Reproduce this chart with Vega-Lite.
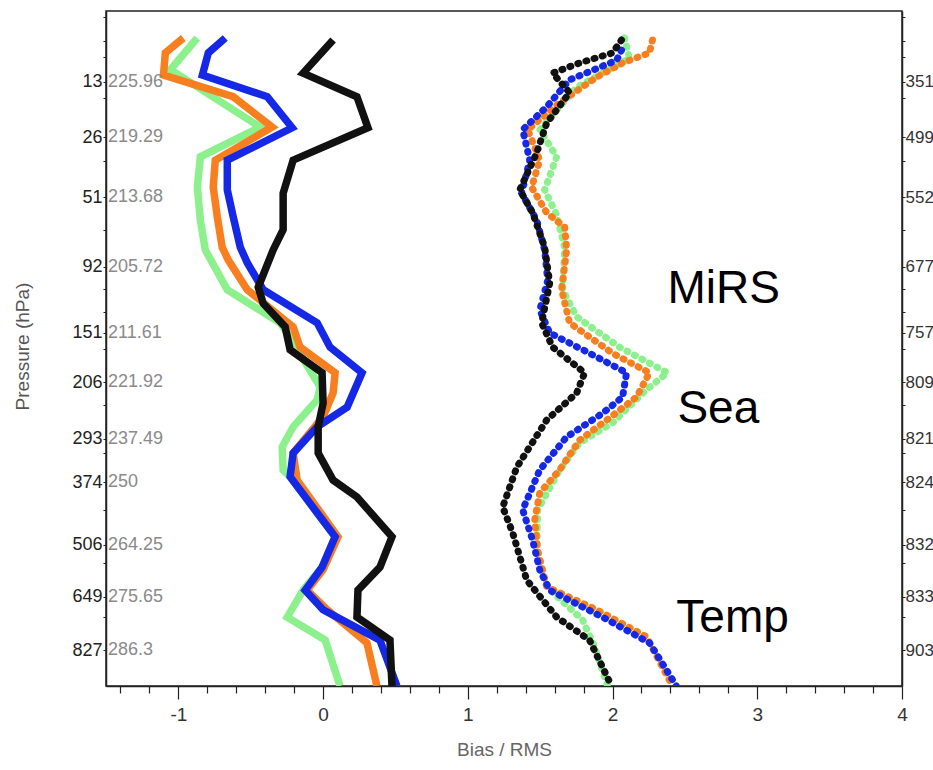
{
  "$schema": "https://vega.github.io/schema/vega-lite/v6.json",
  "width": 796,
  "height": 675,
  "autosize": {"type": "none"},
  "padding": {"left": 106, "top": 11, "right": 31, "bottom": 84},
  "background": "white",
  "config": {
    "view": {"stroke": "#222", "strokeWidth": 1.5},
    "font": "Liberation Sans"
  },
  "datasets": {
    "bias": [
      {"series": "green", "level": 4.0, "value": -0.87},
      {"series": "green", "level": 8.7, "value": -1.055},
      {"series": "green", "level": 17.2, "value": -0.434},
      {"series": "green", "level": 21.6, "value": -0.848},
      {"series": "green", "level": 26.1, "value": -0.869},
      {"series": "green", "level": 31.0, "value": -0.848},
      {"series": "green", "level": 35.4, "value": -0.814},
      {"series": "green", "level": 41.3, "value": -0.662},
      {"series": "green", "level": 46.2, "value": -0.297},
      {"series": "green", "level": 47.7, "value": -0.248},
      {"series": "green", "level": 55.7, "value": -0.02},
      {"series": "green", "level": 57.6, "value": -0.04},
      {"series": "green", "level": 61.6, "value": -0.207},
      {"series": "green", "level": 64.6, "value": -0.283},
      {"series": "green", "level": 68.0, "value": -0.276},
      {"series": "green", "level": 69.0, "value": -0.228},
      {"series": "green", "level": 77.9, "value": 0.083},
      {"series": "green", "level": 82.4, "value": -0.007},
      {"series": "green", "level": 85.8, "value": -0.138},
      {"series": "green", "level": 89.8, "value": -0.248},
      {"series": "green", "level": 93.2, "value": 0.014},
      {"series": "green", "level": 100, "value": 0.117},
      {"series": "orange", "level": 4.0, "value": -0.966},
      {"series": "orange", "level": 6.2, "value": -1.09},
      {"series": "orange", "level": 9.5, "value": -1.103},
      {"series": "orange", "level": 12.7, "value": -0.621},
      {"series": "orange", "level": 17.2, "value": -0.352},
      {"series": "orange", "level": 22.1, "value": -0.745},
      {"series": "orange", "level": 26.1, "value": -0.759},
      {"series": "orange", "level": 30.5, "value": -0.731},
      {"series": "orange", "level": 35.0, "value": -0.697},
      {"series": "orange", "level": 36.9, "value": -0.655},
      {"series": "orange", "level": 41.3, "value": -0.524},
      {"series": "orange", "level": 46.8, "value": -0.207},
      {"series": "orange", "level": 49.8, "value": -0.159},
      {"series": "orange", "level": 53.6, "value": 0.083},
      {"series": "orange", "level": 56.6, "value": 0.069},
      {"series": "orange", "level": 60.1, "value": 0.0},
      {"series": "orange", "level": 65.5, "value": -0.207},
      {"series": "orange", "level": 69.5, "value": -0.179},
      {"series": "orange", "level": 77.9, "value": 0.103},
      {"series": "orange", "level": 82.8, "value": 0.0},
      {"series": "orange", "level": 85.8, "value": -0.11},
      {"series": "orange", "level": 88.7, "value": 0.028},
      {"series": "orange", "level": 93.6, "value": 0.303},
      {"series": "orange", "level": 100, "value": 0.372},
      {"series": "blue", "level": 4.0, "value": -0.676},
      {"series": "blue", "level": 6.2, "value": -0.793},
      {"series": "blue", "level": 9.5, "value": -0.834},
      {"series": "blue", "level": 12.7, "value": -0.386},
      {"series": "blue", "level": 17.3, "value": -0.214},
      {"series": "blue", "level": 22.1, "value": -0.662},
      {"series": "blue", "level": 26.5, "value": -0.662},
      {"series": "blue", "level": 30.5, "value": -0.621},
      {"series": "blue", "level": 35.0, "value": -0.572},
      {"series": "blue", "level": 37.3, "value": -0.524},
      {"series": "blue", "level": 41.3, "value": -0.414},
      {"series": "blue", "level": 46.2, "value": -0.041},
      {"series": "blue", "level": 49.8, "value": 0.048},
      {"series": "blue", "level": 53.6, "value": 0.269},
      {"series": "blue", "level": 58.7, "value": 0.166},
      {"series": "blue", "level": 61.6, "value": -0.041},
      {"series": "blue", "level": 65.5, "value": -0.207},
      {"series": "blue", "level": 69.0, "value": -0.228},
      {"series": "blue", "level": 77.9, "value": 0.083},
      {"series": "blue", "level": 82.4, "value": -0.007},
      {"series": "blue", "level": 85.8, "value": -0.124},
      {"series": "blue", "level": 88.7, "value": 0.0},
      {"series": "blue", "level": 93.2, "value": 0.393},
      {"series": "blue", "level": 100, "value": 0.51},
      {"series": "black", "level": 4.3, "value": 0.069},
      {"series": "black", "level": 9.2, "value": -0.138},
      {"series": "black", "level": 12.7, "value": 0.234},
      {"series": "black", "level": 17.3, "value": 0.31},
      {"series": "black", "level": 22.1, "value": -0.207},
      {"series": "black", "level": 27.0, "value": -0.276},
      {"series": "black", "level": 32.4, "value": -0.276},
      {"series": "black", "level": 35.4, "value": -0.345},
      {"series": "black", "level": 40.9, "value": -0.448},
      {"series": "black", "level": 43.3, "value": -0.414},
      {"series": "black", "level": 46.8, "value": -0.262},
      {"series": "black", "level": 50.2, "value": -0.228},
      {"series": "black", "level": 53.6, "value": -0.007},
      {"series": "black", "level": 58.1, "value": 0.0},
      {"series": "black", "level": 61.6, "value": -0.034},
      {"series": "black", "level": 65.5, "value": -0.034},
      {"series": "black", "level": 69.5, "value": 0.069},
      {"series": "black", "level": 72.0, "value": 0.234},
      {"series": "black", "level": 77.9, "value": 0.476},
      {"series": "black", "level": 82.4, "value": 0.393},
      {"series": "black", "level": 85.8, "value": 0.241},
      {"series": "black", "level": 89.8, "value": 0.234},
      {"series": "black", "level": 93.2, "value": 0.462},
      {"series": "black", "level": 100, "value": 0.476}
    ],
    "rms": [
      {"series": "green", "level": 4.0, "value": 2.083},
      {"series": "green", "level": 7.0, "value": 2.117},
      {"series": "green", "level": 11.3, "value": 1.752},
      {"series": "green", "level": 17.6, "value": 1.497},
      {"series": "green", "level": 21.6, "value": 1.614},
      {"series": "green", "level": 26.5, "value": 1.531},
      {"series": "green", "level": 30.2, "value": 1.614},
      {"series": "green", "level": 35.1, "value": 1.669},
      {"series": "green", "level": 41.3, "value": 1.655},
      {"series": "green", "level": 45.3, "value": 1.752},
      {"series": "green", "level": 49.8, "value": 2.048},
      {"series": "green", "level": 53.6, "value": 2.379},
      {"series": "green", "level": 56.1, "value": 2.234},
      {"series": "green", "level": 61.0, "value": 2.0},
      {"series": "green", "level": 64.0, "value": 1.772},
      {"series": "green", "level": 68.0, "value": 1.634},
      {"series": "green", "level": 73.9, "value": 1.483},
      {"series": "green", "level": 79.9, "value": 1.476},
      {"series": "green", "level": 85.3, "value": 1.545},
      {"series": "green", "level": 90.2, "value": 1.793},
      {"series": "green", "level": 94.2, "value": 1.876},
      {"series": "green", "level": 100, "value": 1.966},
      {"series": "orange", "level": 4.3, "value": 2.276},
      {"series": "orange", "level": 6.2, "value": 2.255},
      {"series": "orange", "level": 7.7, "value": 2.069},
      {"series": "orange", "level": 9.8, "value": 1.89},
      {"series": "orange", "level": 13.6, "value": 1.634},
      {"series": "orange", "level": 17.6, "value": 1.414},
      {"series": "orange", "level": 22.1, "value": 1.497},
      {"series": "orange", "level": 26.1, "value": 1.441},
      {"series": "orange", "level": 29.9, "value": 1.545},
      {"series": "orange", "level": 32.0, "value": 1.669},
      {"series": "orange", "level": 35.4, "value": 1.683},
      {"series": "orange", "level": 41.3, "value": 1.648},
      {"series": "orange", "level": 46.2, "value": 1.703},
      {"series": "orange", "level": 50.7, "value": 2.0},
      {"series": "orange", "level": 53.6, "value": 2.255},
      {"series": "orange", "level": 57.2, "value": 2.166},
      {"series": "orange", "level": 60.6, "value": 1.959},
      {"series": "orange", "level": 63.6, "value": 1.772},
      {"series": "orange", "level": 68.0, "value": 1.634},
      {"series": "orange", "level": 71.4, "value": 1.497},
      {"series": "orange", "level": 75.4, "value": 1.462},
      {"series": "orange", "level": 79.9, "value": 1.483},
      {"series": "orange", "level": 85.3, "value": 1.545},
      {"series": "orange", "level": 88.7, "value": 1.89},
      {"series": "orange", "level": 92.7, "value": 2.234},
      {"series": "orange", "level": 100, "value": 2.414},
      {"series": "blue", "level": 5.8, "value": 2.062},
      {"series": "blue", "level": 7.3, "value": 2.028},
      {"series": "blue", "level": 10.2, "value": 1.703},
      {"series": "blue", "level": 14.2, "value": 1.545},
      {"series": "blue", "level": 17.6, "value": 1.379},
      {"series": "blue", "level": 22.1, "value": 1.428},
      {"series": "blue", "level": 27.0, "value": 1.372},
      {"series": "blue", "level": 31.0, "value": 1.476},
      {"series": "blue", "level": 35.4, "value": 1.531},
      {"series": "blue", "level": 39.9, "value": 1.552},
      {"series": "blue", "level": 44.3, "value": 1.497},
      {"series": "blue", "level": 47.7, "value": 1.566},
      {"series": "blue", "level": 50.7, "value": 1.841},
      {"series": "blue", "level": 53.6, "value": 2.097},
      {"series": "blue", "level": 57.2, "value": 2.069},
      {"series": "blue", "level": 59.6, "value": 1.931},
      {"series": "blue", "level": 63.1, "value": 1.683},
      {"series": "blue", "level": 68.0, "value": 1.497},
      {"series": "blue", "level": 73.9, "value": 1.379},
      {"series": "blue", "level": 78.4, "value": 1.448},
      {"series": "blue", "level": 82.8, "value": 1.497},
      {"series": "blue", "level": 85.8, "value": 1.566},
      {"series": "blue", "level": 89.8, "value": 1.931},
      {"series": "blue", "level": 93.6, "value": 2.255},
      {"series": "blue", "level": 100, "value": 2.441},
      {"series": "black", "level": 4.3, "value": 2.062},
      {"series": "black", "level": 6.2, "value": 2.0},
      {"series": "black", "level": 7.7, "value": 1.772},
      {"series": "black", "level": 9.2, "value": 1.586},
      {"series": "black", "level": 12.1, "value": 1.703},
      {"series": "black", "level": 16.6, "value": 1.545},
      {"series": "black", "level": 21.0, "value": 1.476},
      {"series": "black", "level": 26.5, "value": 1.359},
      {"series": "black", "level": 29.9, "value": 1.448},
      {"series": "black", "level": 35.0, "value": 1.531},
      {"series": "black", "level": 40.3, "value": 1.566},
      {"series": "black", "level": 46.2, "value": 1.51},
      {"series": "black", "level": 49.8, "value": 1.586},
      {"series": "black", "level": 53.6, "value": 1.807},
      {"series": "black", "level": 56.6, "value": 1.752},
      {"series": "black", "level": 60.6, "value": 1.545},
      {"series": "black", "level": 67.6, "value": 1.338},
      {"series": "black", "level": 73.5, "value": 1.241},
      {"series": "black", "level": 77.3, "value": 1.31},
      {"series": "black", "level": 84.3, "value": 1.407},
      {"series": "black", "level": 89.8, "value": 1.614},
      {"series": "black", "level": 93.2, "value": 1.841},
      {"series": "black", "level": 100, "value": 1.993}
    ],
    "levels": [
      {"level": 10.5, "p": "13", "t": "225.96", "n": "351"},
      {"level": 18.7, "p": "26", "t": "219.29", "n": "499"},
      {"level": 27.6, "p": "51", "t": "213.68", "n": "552"},
      {"level": 37.9, "p": "92", "t": "205.72", "n": "677"},
      {"level": 47.7, "p": "151", "t": "211.61", "n": "757"},
      {"level": 55.0, "p": "206", "t": "221.92", "n": "809"},
      {"level": 63.4, "p": "293", "t": "237.49", "n": "821"},
      {"level": 69.8, "p": "374", "t": "250", "n": "824"},
      {"level": 79.1, "p": "506", "t": "264.25", "n": "832"},
      {"level": 86.8, "p": "649", "t": "275.65", "n": "833"},
      {"level": 94.7, "p": "827", "t": "286.3", "n": "903"}
    ],
    "notes": [
      {"value": 2.379, "level": 43.3, "text": "MiRS"},
      {"value": 2.448, "level": 61.0, "text": "Sea"},
      {"value": 2.441, "level": 92.0, "text": "Temp"}
    ]
  },
  "layer": [
    {
      "mark": {"type": "rule", "strokeDash": [3, 3], "strokeWidth": 1, "color": "#222"},
      "encoding": {
        "x": {
          "datum": 0, "type": "quantitative",
          "scale": {"domain": [-1.5, 4], "nice": false},
          "axis": {
            "orient": "bottom",
            "values": [-1.4, -1.2, -0.8, -0.6, -0.4, -0.2, 0.2, 0.4, 0.6, 0.8, 1.2, 1.4, 1.6, 1.8, 2.2, 2.4, 2.6, 2.8, 3.2, 3.4, 3.6, 3.8],
            "labels": false, "domain": false, "grid": false,
            "tickSize": 7, "tickColor": "#222", "tickWidth": 1.2,
            "title": null
          }
        }
      }
    },
    {
      "data": {"name": "bias"},
      "mark": {"type": "line", "strokeWidth": 7.5, "strokeJoin": "miter", "clip": true},
      "encoding": {
        "x": {
          "field": "value", "type": "quantitative",
          "scale": {"domain": [-1.5, 4], "nice": false},
          "axis": {
            "orient": "bottom",
            "values": [-1, 0, 1, 2, 3, 4],
            "labelExpr": "'' + datum.value",
            "tickSize": 13, "tickColor": "#222", "tickWidth": 1.2,
            "domainColor": "#222", "domainWidth": 1.5,
            "grid": false,
            "labelFontSize": 19, "labelColor": "#333", "labelPadding": 6,
            "labelFlush": false, "labelOverlap": false,
            "title": "Bias / RMS", "titleFontSize": 19, "titleColor": "#666",
            "titleFontWeight": "normal", "titlePadding": 16
          }
        },
        "y": {
          "field": "level", "type": "quantitative",
          "scale": {"domain": [0, 100], "reverse": true, "nice": false, "zero": false},
          "axis": {
            "orient": "left",
            "values": [0.9, 4.4, 6.8, 10.5, 12.9, 18.7, 22.2, 27.6, 32.4, 37.9, 41.2, 44.6, 47.7, 50.1, 55, 58.4, 63.4, 65.5, 69.8, 73.9, 79.1, 81.8, 86.8, 89.8, 94.7],
            "labelExpr": "indexof([10.5,18.7,27.6,37.9,47.7,55,63.4,69.8,79.1,86.8,94.7], datum.value) >= 0 ? ['13','26','51','92','151','206','293','374','506','649','827'][indexof([10.5,18.7,27.6,37.9,47.7,55,63.4,69.8,79.1,86.8,94.7], datum.value)] : ''",
            "tickSize": 3, "tickColor": "#222", "domainColor": "#222", "domainWidth": 1.5,
            "grid": false, "labelFontSize": 18, "labelColor": "#222", "labelPadding": 1,
            "labelOverlap": false, "labelFlush": false,
            "title": "Pressure (hPa)", "titleFontSize": 19,
            "titleColor": "#555", "titleFontWeight": "normal",
            "titleX": -84, "titleY": 335, "titleAlign": "center", "titleBaseline": "middle", "titleAngle": 270
          }
        },
        "order": {"field": "level", "type": "quantitative"},
        "color": {
          "field": "series", "type": "nominal",
          "scale": {"domain": ["green", "orange", "blue", "black"], "range": ["#8cf08c", "#f77f1f", "#1428e6", "#111111"]},
          "legend": null
        }
      }
    },
    {
      "data": {"name": "rms"},
      "mark": {"type": "line", "strokeWidth": 7, "strokeDash": [1, 7.5], "strokeCap": "round", "clip": true},
      "encoding": {
        "x": {"field": "value", "type": "quantitative", "scale": {"domain": [-1.5, 4], "nice": false}, "axis": null},
        "y": {"field": "level", "type": "quantitative", "scale": {"domain": [0, 100], "reverse": true, "nice": false, "zero": false}, "axis": null},
        "order": {"field": "level", "type": "quantitative"},
        "color": {
          "field": "series", "type": "nominal",
          "scale": {"domain": ["green", "orange", "blue", "black"], "range": ["#8cf08c", "#f77f1f", "#1428e6", "#111111"]},
          "legend": null
        }
      }
    },
    {
      "data": {"name": "levels"},
      "mark": {"type": "text", "align": "left", "baseline": "middle", "dx": 2, "fontSize": 18, "color": "#8a8a8a"},
      "encoding": {
        "x": {"datum": -1.5, "type": "quantitative", "scale": {"domain": [-1.5, 4], "nice": false}, "axis": null},
        "y": {
          "field": "level", "type": "quantitative",
          "scale": {"domain": [0, 100], "reverse": true, "nice": false, "zero": false},
          "axis": {
            "orient": "right",
            "values": [0.9, 4.4, 6.8, 10.5, 12.9, 18.7, 22.2, 27.6, 32.4, 37.9, 41.2, 44.6, 47.7, 50.1, 55, 58.4, 63.4, 65.5, 69.8, 73.9, 79.1, 81.8, 86.8, 89.8, 94.7],
            "labelExpr": "indexof([10.5,18.7,27.6,37.9,47.7,55,63.4,69.8,79.1,86.8,94.7], datum.value) >= 0 ? ['351','499','552','677','757','809','821','824','832','833','903'][indexof([10.5,18.7,27.6,37.9,47.7,55,63.4,69.8,79.1,86.8,94.7], datum.value)] : ''",
            "tickSize": 3, "tickColor": "#222", "domainColor": "#222", "domainWidth": 1.5,
            "grid": false, "labelFontSize": 17, "labelColor": "#333", "labelPadding": 0,
            "labelOverlap": false, "labelFlush": false, "title": null
          }
        },
        "text": {"field": "t"}
      }
    },
    {
      "data": {"name": "notes"},
      "mark": {"type": "text", "align": "left", "baseline": "alphabetic", "fontSize": 46, "color": "#000"},
      "encoding": {
        "x": {"field": "value", "type": "quantitative", "scale": {"domain": [-1.5, 4], "nice": false}, "axis": null},
        "y": {"field": "level", "type": "quantitative", "scale": {"domain": [0, 100], "reverse": true, "nice": false, "zero": false}, "axis": null},
        "text": {"field": "text"}
      }
    }
  ],
  "resolve": {"axis": {"x": "independent", "y": "independent"}}
}
